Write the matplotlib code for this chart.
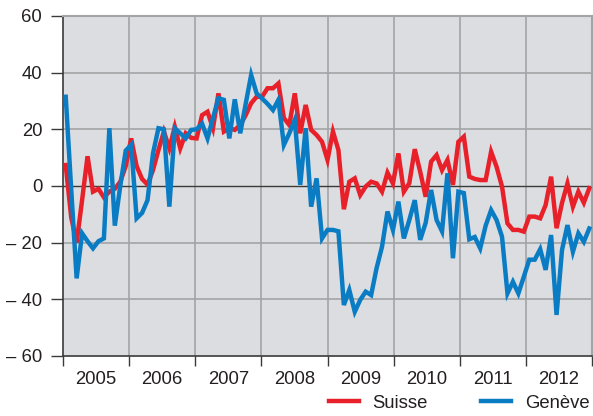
import matplotlib
matplotlib.use("Agg")
import matplotlib.pyplot as plt
import numpy as np

plt.rcParams['font.family'] = ['Liberation Sans', 'DejaVu Sans']

# monthly values, Jan 2005 .. Jan 2013
suisse = [7.4, -11, -20, -5, 10.5, -2, -1, -4, -2, -1, 1.5, 7,
          16.8, 7, 2.5, 0.5, 5.6, 12.7, 19.2, 13.3, 20.9, 13.3, 18.6, 17,
          16.8, 25, 26.2, 20.4, 32.7, 19.2, 20.4, 19.8, 21.5, 25, 29.2, 31.5,
          31.5, 34.5, 34.5, 36.2, 24, 21.5, 32.7, 18.6, 28.6, 19.8, 18, 15.6,
          9.2, 19.2, 12.7, -8.2, 1.5, 2.7, -3.2, -0.2, 1.5, 0.9, -2, 4.7,
          0.9, 11.5, -2, 1, 13, 5, -3.8, 8.6, 10.9, 5.6, 9.2, 0.4,
          15.6, 17.4, 3.3, 2.5, 2.1, 2.1, 12.1, 6.8, -0.2, -13.2, -15.5, -15.5,
          -16.1, -10.8, -10.8, -11.4, -6.7, 3.3, -14.9, -6, 0.9, -7.3, -2, -5.9,
          -0.8]
geneve = [31.5, -1, -32.6, -16.7, -19.5, -22, -19.5, -18.5, 20.4, -14, 0, 12.5,
          14.5, -11.4, -9.5, -5, 11.5, 20.4, 20, -7.3, 20.4, 18.6, 16.8, 19.8,
          20, 22, 16.8, 24, 31, 30.4, 16.8, 30.6, 18.6, 29, 39.2, 32.7,
          30.9, 29, 26.8, 30.4, 14.5, 18.6, 23.3, 0.4, 20.4, -7.3, 2.7, -18.5,
          -15.5, -15.5, -16, -42, -36.7, -44.4, -40.2, -37.3, -38.5, -29, -21.4, -9,
          -15.5, -5.5, -18.5, -12, -5, -19, -13, -1.4, -12, -16, 4.5, -25.5,
          -2, -2.5, -18.8, -18, -22, -14, -8.5, -12, -17.9, -37.9, -33.8, -37.9,
          -32, -26, -26, -22.3, -29.6, -17.3, -45.5, -22.6, -13.8, -23.2, -16.7, -19.7,
          -15]
years = ['2005', '2006', '2007', '2008', '2009', '2010', '2011', '2012']
yticks = [60, 40, 20, 0, -20, -40, -60]
ylabels = ['60', '40', '20', '0', '\u2013 20', '\u2013 40', '\u2013 60']

red = '#e8202a'
blue = '#0a7cc4'
grid = '#a3a4a6'
dark = '#3a3a3a'
txt = '#231f20'
fs = 13.3

n = len(suisse)
x = np.arange(n)
bounds = np.linspace(-0.5, n - 0.5, len(years) + 1)
mids = (bounds[:-1] + bounds[1:]) / 2

fig = plt.figure(figsize=(5.93, 4.16), dpi=100)
ax = fig.add_axes([63/593, 1 - 356/416, 529/593, 340/416])
ax.set_facecolor('#dcdde0')

for b in bounds[1:-1]:
    ax.axvline(b, color=grid, lw=1.2, zorder=1)
for t in [60, 40, 20, -20, -40]:
    ax.axhline(t, color=grid, lw=1.2, zorder=1)
ax.axhline(0, color=dark, lw=1.0, zorder=2)

ax.plot(x, suisse, color=red, lw=3.2, solid_joinstyle='miter', zorder=3, label='Suisse')
ax.plot(x, geneve, color=blue, lw=3.2, solid_joinstyle='miter', zorder=4, label='Genève')

ax.set_xlim(bounds[0], bounds[-1])
ax.set_ylim(-60, 60)

ax.set_yticks(yticks)
ax.set_yticklabels(ylabels)
ax.set_xticks(bounds)
ax.set_xticklabels([])
ax.set_xticks(mids, minor=True)
ax.set_xticklabels(years, minor=True)

ax.tick_params(axis='y', direction='out', length=8.5, width=1, color=dark,
               labelsize=fs, labelcolor=txt, pad=6.5)
ax.tick_params(axis='x', which='major', direction='out', length=7.5, width=1,
               color=dark)
ax.tick_params(axis='x', which='minor', length=0, labelsize=fs,
               labelcolor=txt, pad=11)

for s in ['top', 'right']:
    ax.spines[s].set_color(grid)
    ax.spines[s].set_linewidth(1.5)
for s in ['left', 'bottom']:
    ax.spines[s].set_color(dark)
    ax.spines[s].set_linewidth(1.2)

fig.legend(loc='lower right', bbox_to_anchor=(1.022, -0.03), ncol=2, frameon=False,
           fontsize=fs, handlelength=1.6, handletextpad=0.75, columnspacing=2.9,
           labelcolor=txt)

fig.savefig('out.png', dpi=100)
